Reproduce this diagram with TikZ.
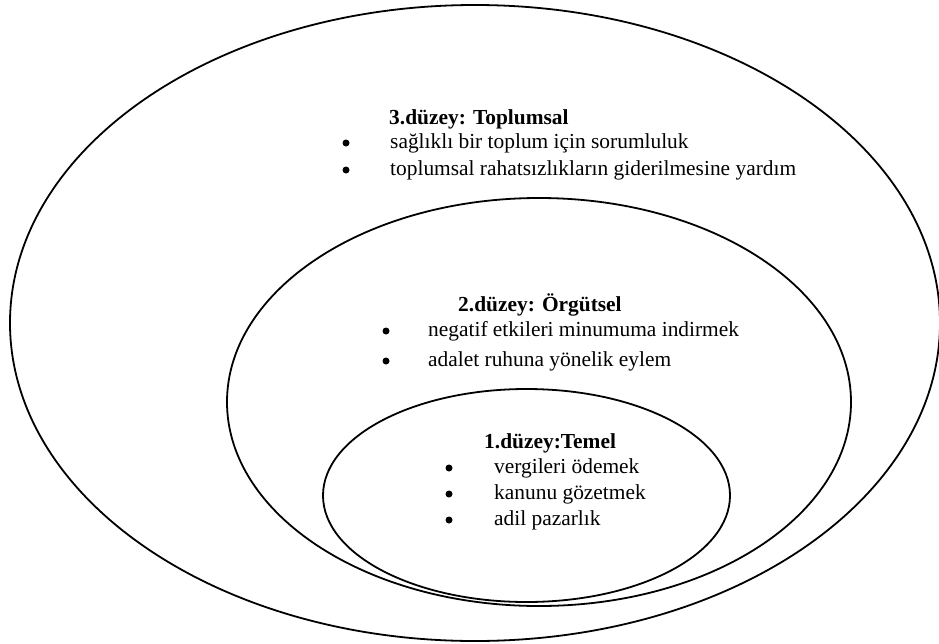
\documentclass[tikz,border=0pt]{standalone}
\usepackage{fontspec}
\setmainfont{Liberation Serif}
\usetikzlibrary{shapes.geometric}
\begin{document}
\begin{tikzpicture}[x=1pt,y=-1pt,
  ring/.style={ellipse,draw,line width=1.8pt,inner sep=0pt},
  title/.style={anchor=west,inner sep=0pt,font=\fontsize{21.4}{24}\selectfont\bfseries},
  item/.style={anchor=west,inner sep=0pt,font=\fontsize{21.4}{24}\selectfont},
  dot/.style={circle,fill=black,inner sep=0pt,minimum size=7pt}]
\useasboundingbox (0,0) rectangle (939,643);
\clip (0,0) rectangle (939,643);
% ellipses
\node[ring,minimum width=930pt,minimum height=636pt] (outer) at (475,323) {};
\node[ring,minimum width=624pt,minimum height=408pt] (middle) at (539,402) {};
\node[ring,minimum width=407pt,minimum height=213pt] (inner) at (526.5,495.5) {};
% level 3
\node[title] (t3) at (389,119) {3.düzey: Toplumsal};
\node[dot] (b31) at (346,143) {};
\node[item] (i31) at (390,143) {sağlıklı bir toplum için sorumluluk};
\node[dot] (b32) at (346,170) {};
\node[item] (i32) at (390,170) {toplumsal rahatsızlıkların giderilmesine yardım};
% level 2
\node[title] (t2) at (458,305) {2.düzey: Örgütsel};
\node[dot] (b21) at (386,331) {};
\node[item] (i21) at (428,331) {negatif etkileri minumuma indirmek};
\node[dot] (b22) at (386,361) {};
\node[item] (i22) at (428,361) {adalet ruhuna yönelik eylem};
% level 1
\node[title] (t1) at (484,443) {1.düzey:Temel};
\node[dot] (b11) at (449,468) {};
\node[item] (i11) at (494,468) {vergileri ödemek};
\node[dot] (b12) at (449,494) {};
\node[item] (i12) at (494,494) {kanunu gözetmek};
\node[dot] (b13) at (449,520) {};
\node[item] (i13) at (494,520) {adil pazarlık};
\end{tikzpicture}
\end{document}
